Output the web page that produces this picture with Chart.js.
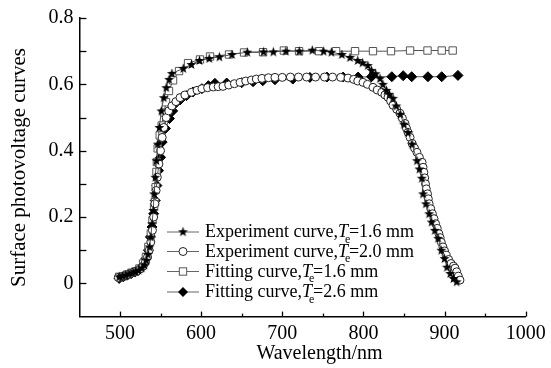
<!DOCTYPE html>
<html><head><meta charset="utf-8">
<script src="https://cdn.jsdelivr.net/npm/chart.js@4.4.1/dist/chart.umd.min.js"></script>
<style>html,body{margin:0;padding:0;background:#fff;}canvas{display:block;}</style>
</head><body>
<canvas id="c" width="551" height="368"></canvas>
<script>
// ---- data (wavelength nm, surface photovoltage) ----
const expCurve16 = [[499,0.02],[503,0.022],[507,0.025],[511,0.029],[515,0.032],[519,0.036],[523,0.04],[527,0.047],[530,0.056],[532.5,0.07],[534.5,0.088],[536.5,0.11],[538,0.14],[539.5,0.18],[541,0.22],[542,0.27],[543.5,0.32],[545,0.37],[546.5,0.42],[548.5,0.47],[551,0.52],[554,0.56],[557,0.59],[560.5,0.615],[564,0.633],[578,0.648],[588,0.66],[598,0.672],[610,0.678],[622.5,0.683],[638,0.69],[657,0.697],[677,0.698],[689,0.698],[704.5,0.70],[721,0.70],[737,0.703],[751,0.70],[760.5,0.697],[773.5,0.69],[783.5,0.681],[793,0.672],[799,0.665],[805.5,0.657],[810,0.642],[815,0.632],[820.5,0.618],[824,0.60],[828.5,0.582],[832,0.57],[836.5,0.558],[840.5,0.535],[845.5,0.51],[850,0.48],[855,0.455],[860,0.42],[866,0.37],[869,0.345],[872,0.317],[873.5,0.27],[877,0.24],[881,0.21],[884,0.185],[888,0.16],[892,0.136],[896,0.10],[900,0.075],[903,0.049],[907,0.03],[911,0.015],[915,0.005]];
const expCurve20 = [[498,0.018],[502,0.02],[505,0.022],[509,0.026],[513,0.03],[517,0.034],[521,0.038],[525,0.044],[528.5,0.052],[531.5,0.065],[534,0.08],[536,0.1],[538,0.125],[540,0.16],[541.5,0.2],[543,0.24],[544.5,0.28],[546,0.32],[548,0.36],[550,0.4],[552,0.44],[554,0.47],[557,0.5],[560,0.52],[564,0.535],[569,0.548],[574,0.56],[580,0.568],[588,0.576],[595,0.582],[601,0.587],[608,0.59],[615,0.592],[621,0.593],[627,0.594],[634,0.598],[641,0.602],[648,0.606],[655,0.61],[662,0.613],[668,0.616],[675,0.618],[683,0.62],[691,0.621],[700,0.621],[710,0.622],[720,0.622],[730,0.622],[741,0.622],[752,0.622],[762,0.622],[772,0.621],[781,0.619],[788,0.615],[793,0.61],[799.5,0.606],[805,0.6],[811.8,0.591],[817,0.583],[822.6,0.576],[826.5,0.568],[830.3,0.561],[833.5,0.55],[836.5,0.537],[841,0.525],[845,0.513],[848,0.498],[851.3,0.482],[853,0.468],[855,0.455],[857.5,0.44],[860,0.422],[863,0.408],[866,0.395],[869,0.38],[872.3,0.365],[873.5,0.35],[874.5,0.335],[875.5,0.318],[876.5,0.3],[877.5,0.285],[879,0.27],[880,0.255],[881,0.24],[883,0.225],[885,0.21],[887,0.195],[889,0.18],[891,0.166],[893,0.15],[894.5,0.138],[896,0.124],[898,0.11],[900,0.098],[902,0.085],[905,0.072],[908,0.06],[911,0.052],[913,0.046],[915,0.035],[917,0.022],[919,0.01]];
const fitCurve16 = [[499,0.02],[504,0.022],[509,0.027],[514,0.032],[519,0.036],[524,0.045],[528.5,0.06],[532,0.08],[535,0.11],[538,0.15],[540,0.19],[542,0.23],[543.2,0.245],[544,0.29],[545,0.336],[545.5,0.366],[546.5,0.407],[549,0.446],[551.4,0.476],[554.3,0.515],[556.7,0.546],[560.4,0.58],[565.4,0.612],[572.8,0.64],[583.9,0.664],[598.6,0.675],[611,0.684],[634.4,0.69],[652.9,0.696],[676.3,0.697],[702,0.702],[720.7,0.70],[745.3,0.70],[766.3,0.70],[789.7,0.70],[811.8,0.70],[834,0.70],[857.5,0.702],[879,0.702],[896.5,0.702],[910,0.702]];
const fitCurve26 = [[499,0.015],[504,0.02],[509,0.025],[514,0.03],[519,0.035],[524,0.042],[528.5,0.055],[532,0.075],[535,0.1],[537.5,0.14],[539.5,0.17],[541.5,0.21],[543.5,0.25],[545.5,0.295],[547.5,0.34],[550,0.38],[552,0.426],[556,0.467],[561,0.497],[565,0.52],[568,0.542],[574,0.553],[582,0.566],[590,0.577],[601,0.587],[609,0.596],[617,0.603],[631.5,0.604],[650,0.605],[664,0.608],[676,0.611],[691,0.614],[713,0.616],[734,0.621],[755,0.622],[775,0.622],[793.5,0.622],[810,0.623],[835,0.623],[849,0.626],[859.5,0.623],[879.5,0.623],[896.5,0.623],[916.5,0.627]];
const seriesNames = ['Experiment curve,', 'Experiment curve,', 'Fitting curve,', 'Fitting curve,'];
const seriesTe = ['=1.6 mm', '=2.0 mm', '=1.6 mm', '=2.6 mm'];
const xTitle = 'Wavelength/nm';
const yTitle = 'Surface photovoltage curves';

const FONT = '"Liberation Serif","Times New Roman",serif';

function starCanvas(){
  const c = document.createElement('canvas'); c.width = 11; c.height = 11;
  const g = c.getContext('2d'); g.fillStyle = '#000'; g.beginPath();
  for (let i = 0; i < 10; i++) {
    const r = i % 2 === 0 ? 5.2 : 2.1;
    const a = -Math.PI / 2 + i * Math.PI / 5;
    const px = 5.5 + r * Math.cos(a), py = 5.8 + r * Math.sin(a);
    if (i === 0) g.moveTo(px, py); else g.lineTo(px, py);
  }
  g.closePath(); g.fill(); return c;
}
const STAR = starCanvas();
const pts = a => a.map(p => ({x: p[0], y: p[1]}));
const LINE = '#555';

const styles = [
  {pointStyle: STAR, pointRadius: 5, backgroundColor: '#000', borderColor: '#000'},
  {pointStyle: 'circle', pointRadius: 4, backgroundColor: '#fff', borderColor: '#222'},
  {pointStyle: 'rect', pointRadius: 5.2, backgroundColor: '#fff', borderColor: '#555'},
  {pointStyle: 'rectRot', pointRadius: 5, backgroundColor: '#000', borderColor: '#000'}
];
const dataArr = [expCurve16, expCurve20, fitCurve16, fitCurve26];

const datasets = dataArr.map((d, i) => ({
  data: pts(d), showLine: true, borderColor: LINE, borderWidth: 1,
  pointStyle: styles[i].pointStyle, pointRadius: styles[i].pointRadius,
  pointBackgroundColor: styles[i].backgroundColor, pointBorderColor: styles[i].borderColor,
  pointBorderWidth: 1, pointHoverRadius: styles[i].pointRadius
}));

function drawMarker(ctx, i, x, y){
  ctx.save(); ctx.lineWidth = 1;
  const s = styles[i];
  if (i === 0) { ctx.drawImage(STAR, x - 5.5, y - 5.8); }
  else if (i === 1) { ctx.beginPath(); ctx.arc(x, y, 4, 0, Math.PI*2); ctx.fillStyle = '#fff'; ctx.fill(); ctx.strokeStyle = s.borderColor; ctx.stroke(); }
  else if (i === 2) { const h = 5.2*Math.SQRT1_2; ctx.fillStyle = '#fff'; ctx.fillRect(x-h, y-h, 2*h, 2*h); ctx.strokeStyle = s.borderColor; ctx.strokeRect(x-h, y-h, 2*h, 2*h); }
  else { ctx.beginPath(); ctx.moveTo(x-5, y); ctx.lineTo(x, y-5); ctx.lineTo(x+5, y); ctx.lineTo(x, y+5); ctx.closePath(); ctx.fillStyle = '#000'; ctx.fill(); }
  ctx.restore();
}

const decor = {
  id: 'decor',
  afterDraw(chart){
    const ctx = chart.ctx, xs = chart.scales.x, ys = chart.scales.y, ca = chart.chartArea;
    ctx.save();
    ctx.strokeStyle = '#000'; ctx.lineWidth = 1.3;
    // tick marks (inside)
    xs.ticks.forEach(t => {
      if (t.value <= xs.min) return;
      const px = Math.round(xs.getPixelForValue(t.value)) + 0.5;
      const len = (t.value % 100 === 0) ? 5 : 3;
      ctx.beginPath(); ctx.moveTo(px, ca.bottom); ctx.lineTo(px, ca.bottom - len); ctx.stroke();
    });
    ys.ticks.forEach(t => {
      if (t.value <= ys.min + 1e-9) return;
      const py = Math.round(ys.getPixelForValue(t.value)) + 0.5;
      ctx.beginPath(); ctx.moveTo(ca.left, py); ctx.lineTo(ca.left + 7, py); ctx.stroke();
    });
    // axis titles
    ctx.fillStyle = '#000'; ctx.textAlign = 'center'; ctx.textBaseline = 'middle';
    ctx.font = '20px ' + FONT;
    ctx.fillText(xTitle, 319.5, 354);
    ctx.save(); ctx.translate(19, 167.5); ctx.rotate(-Math.PI/2);
    ctx.font = '21px ' + FONT; ctx.fillText(yTitle, 0, 0); ctx.restore();
    // legend
    const rows = [231.5, 251, 271, 291.5];
    rows.forEach((ry, i) => {
      ctx.strokeStyle = '#666'; ctx.lineWidth = 1;
      ctx.beginPath(); ctx.moveTo(167, ry + 0.5); ctx.lineTo(199, ry + 0.5); ctx.stroke();
      drawMarker(ctx, i, 183, ry + 0.5);
      let cx = 205;
      ctx.textAlign = 'left'; ctx.textBaseline = 'middle'; ctx.fillStyle = '#000';
      ctx.font = '18px ' + FONT;
      ctx.fillText(seriesNames[i], cx, ry + 1); cx += ctx.measureText(seriesNames[i]).width;
      ctx.font = 'italic 18px ' + FONT;
      ctx.fillText('T', cx, ry + 1); const tw = ctx.measureText('T').width;
      ctx.font = '12px ' + FONT;
      ctx.fillText('e', cx + tw - 3, ry + 8);
      cx += tw + 1;
      ctx.font = '18px ' + FONT;
      ctx.fillText(seriesTe[i], cx, ry + 1);
    });
    ctx.restore();
  }
};

new Chart(document.getElementById('c'), {
  type: 'scatter',
  data: {datasets},
  options: {
    responsive: false, animation: false, devicePixelRatio: 1,
    layout: {padding: {left: 0, top: 17.3, right: 25.3, bottom: 0}},
    plugins: {legend: {display: false}, tooltip: {enabled: false}},
    scales: {
      x: {
        type: 'linear', min: 450, max: 1000,
        afterFit(s){ s.height = 51.4; },
        grid: {display: false, drawTicks: false},
        border: {display: true, color: '#000', width: 1.5},
        ticks: {stepSize: 50, padding: 5, color: '#000', font: {family: FONT, size: 20},
          maxRotation: 0, autoSkip: false,
          callback: v => (v % 100 === 0 ? String(v) : '')}
      },
      y: {
        type: 'linear', min: -0.1, max: 0.8,
        afterFit(s){ s.width = 79.4; },
        grid: {display: false, drawTicks: false},
        border: {display: true, color: '#000', width: 1.5},
        ticks: {stepSize: 0.1, padding: 6, color: '#000', font: {family: FONT, size: 20}, autoSkip: false,
          callback: v => { const k = Math.round(v * 10); if (k < 0 || k % 2) return ''; return k === 0 ? '0' : (k/10).toFixed(1); }}
      }
    }
  },
  plugins: [decor]
});
</script>
</body></html>
